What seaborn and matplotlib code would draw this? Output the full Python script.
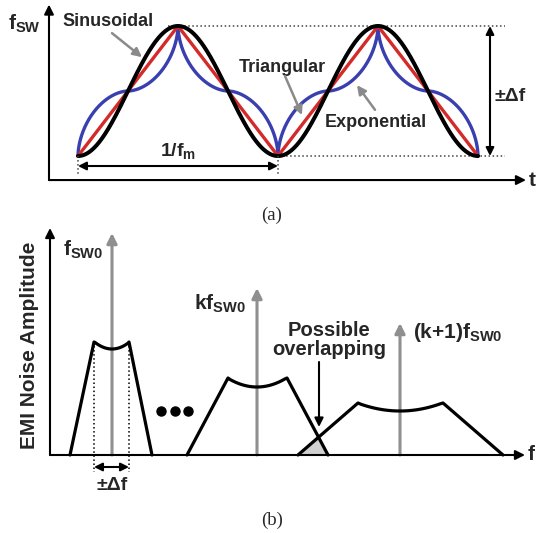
import numpy as np
import pandas as pd
import matplotlib.pyplot as plt
import seaborn as sns

# (a) frequency modulation profiles, t in units of 1/fm, f_sw in units of delta f
profiles = ['Exponential', 'Triangular', 'Sinusoidal']
profile_colors = {'Sinusoidal': 'black', 'Triangular': '#d42a2a', 'Exponential': '#3a3fb0'}
profile_widths = {'Sinusoidal': 2.9, 'Triangular': 2.4, 'Exponential': 2.4}
n_periods = 2
exp_shape = 1.8

# (b) EMI spectrum around harmonics (arbitrary units)
harmonics = ['fsw0', 'kfsw0', 'k1fsw0']
harmonic_labels = [r'$\mathbf{f}_{\mathbf{SW0}}$', r'$\mathbf{kf}_{\mathbf{SW0}}$',
                   r'$\mathbf{(k{+}1)f}_{\mathbf{SW0}}$']
carrier_freq = [0.62, 2.07, 3.50]
carrier_amp = [2.22, 1.67, 1.32]
base_left = [0.20, 1.37, 2.48]
top_left = [0.44, 1.78, 3.08]
top_right = [0.79, 2.37, 3.93]
base_right = [1.02, 2.78, 4.53]
edge_amp = [1.13, 0.77, 0.52]
dip_amp = [1.06, 0.68, 0.44]

sns.set_theme(style='white')
plt.rcParams['font.family'] = ['Liberation Sans', 'DejaVu Sans']
plt.rcParams['mathtext.fontset'] = 'custom'
plt.rcParams['mathtext.rm'] = 'Liberation Sans'
plt.rcParams['mathtext.bf'] = 'Liberation Sans:bold'
plt.rcParams['mathtext.it'] = 'Liberation Sans:italic'

fig = plt.figure(figsize=(5.37, 5.33), dpi=100)
ax_a = fig.add_axes([0, 1 - 230 / 533, 1, 230 / 533])
ax_b = fig.add_axes([0, 0, 1, 308 / 533])
for ax in (ax_a, ax_b):
    ax.set_axis_off()
    ax.patch.set_alpha(0)
ax_a.set_xlim(-0.39, 2.295)
ax_a.set_ylim((91 - 230) / 65, 91 / 65)
ax_b.set_xlim(-0.5, 4.87)
ax_b.set_ylim(-0.78, 2.30)

# ---------- panel (a)
t = np.linspace(0, n_periods, 1601)
tri = 1 - 4 * np.abs(t % 1.0 - 0.5)
q = (tri + 1) / 2


def g(s):
    # rounded quarter arc, 0 -> 1, steep start and flat end
    s = np.clip(s, 0, 1)
    return (1 - (1 - s) ** exp_shape) ** (1 / exp_shape)


expo = np.where(q <= 0.5, -1 + g(2 * q), 1 - g(2 - 2 * q))
sine = -np.cos(2 * np.pi * t)
curves = {'Sinusoidal': sine, 'Triangular': tri, 'Exponential': expo}
df_a = pd.concat([pd.DataFrame({'t': t, 'f': curves[p], 'profile': p}) for p in profiles])

for p in profiles:
    sns.lineplot(data=df_a[df_a.profile == p], x='t', y='f', color=profile_colors[p],
                 lw=profile_widths[p], estimator=None, sort=False, ax=ax_a)

arr = dict(arrowstyle='-|>', color='black', lw=1.5, mutation_scale=14, shrinkA=0, shrinkB=0)
ax_a.annotate('', xy=(-0.145, 1.33), xytext=(-0.145, -1.37), arrowprops=arr)
ax_a.annotate('', xy=(2.24, -1.37), xytext=(-0.145, -1.37), arrowprops=arr)
ax_a.text(2.255, -1.37, 't', fontsize=15, fontweight='bold', ha='left', va='center')
ax_a.text(-0.27, 1.04, r'$\mathbf{f}_{\mathbf{SW}}$', fontsize=15, ha='center', va='center')

ax_a.plot([0.45, 2.135], [1, 1], ':', color='#444444', lw=1.1, zorder=0)
ax_a.plot([1.0, 2.135], [-1, -1], ':', color='#444444', lw=1.1, zorder=0)
for tv in (0, 1):
    ax_a.plot([tv, tv], [-1, -1.31], ':', color='#444444', lw=1.1)

dbl = dict(arrowstyle='<|-|>', color='black', lw=1.5, mutation_scale=12, shrinkA=0, shrinkB=0)
ax_a.annotate('', xy=(0, -1.154), xytext=(1, -1.154), arrowprops=dbl)
ax_a.text(0.5, -0.93, r'$\mathbf{1/f}_{\mathbf{m}}$', fontsize=14, ha='center', va='center')
ax_a.annotate('', xy=(2.06, 1), xytext=(2.06, -1), arrowprops=dbl)
ax_a.text(2.16, -0.09, '±Δf', fontsize=14, fontweight='bold', ha='center', va='center')

gray_arr = dict(arrowstyle='-|>', color='#8a8a8a', lw=1.8, mutation_scale=13, shrinkA=0, shrinkB=0)
ax_a.text(0.15, 1.07, 'Sinusoidal', fontsize=13, fontweight='bold', ha='center', va='center')
ax_a.annotate('', xy=(0.32, 0.52), xytext=(0.17, 0.89), arrowprops=gray_arr)
ax_a.text(1.02, 0.354, 'Triangular', fontsize=13, fontweight='bold', ha='center', va='center')
ax_a.annotate('', xy=(1.12, -0.37), xytext=(1.035, 0.23), arrowprops=gray_arr)
ax_a.text(1.49, -0.477, 'Exponential', fontsize=13, fontweight='bold', ha='center', va='center')
ax_a.annotate('', xy=(1.395, 0.09), xytext=(1.485, -0.29), arrowprops=gray_arr)
ax_a.text(0.97, -1.92, '(a)', fontsize=13.5, family='Liberation Serif', ha='center', va='center')

# ---------- panel (b)
rows = []
for i, h in enumerate(harmonics):
    xs = np.linspace(top_left[i], top_right[i], 31)
    half = (top_right[i] - top_left[i]) / 2
    ys = dip_amp[i] + (edge_amp[i] - dip_amp[i]) * ((xs - carrier_freq[i]) / half) ** 2
    ys = np.clip(ys, None, edge_amp[i])
    ys[0] = ys[-1] = edge_amp[i]
    fx = np.concatenate([[base_left[i]], xs, [base_right[i]]])
    fy = np.concatenate([[0], ys, [0]])
    rows.append(pd.DataFrame({'freq': fx, 'amp': fy, 'harmonic': h}))
df_b = pd.concat(rows)

# overlap of neighbouring sidebands
p2 = df_b[df_b.harmonic == harmonics[1]]
p3 = df_b[df_b.harmonic == harmonics[2]]
xo = np.linspace(base_left[2], base_right[1], 100)
yo = np.minimum(np.interp(xo, p2.freq, p2.amp), np.interp(xo, p3.freq, p3.amp))
ax_b.fill_between(xo, 0, yo, color='#d0d0d0', lw=0, zorder=1)

sns.lineplot(data=df_b, x='freq', y='amp', units='harmonic', estimator=None, sort=False,
             color='black', lw=2.3, ax=ax_b, zorder=3)

carrier_arr = dict(arrowstyle='-|>', color='#8f8f8f', lw=2.2, mutation_scale=15, shrinkA=0, shrinkB=0)
for i in range(len(harmonics)):
    ax_b.annotate('', xy=(carrier_freq[i], carrier_amp[i]), xytext=(carrier_freq[i], 0),
                  arrowprops=carrier_arr, zorder=2)

ax_b.annotate('', xy=(0, 2.27), xytext=(0, 0), arrowprops=arr)
ax_b.annotate('', xy=(4.75, 0), xytext=(0, 0), arrowprops=arr)
ax_b.text(4.78, 0, 'f', fontsize=15, fontweight='bold', ha='left', va='center')
ax_b.text(-0.20, 1.10, 'EMI Noise Amplitude', fontsize=15, fontweight='bold',
          rotation=90, ha='center', va='center')

ax_b.text(0.13, 2.05, harmonic_labels[0], fontsize=15, ha='left', va='center')
ax_b.text(1.96, 1.51, harmonic_labels[1], fontsize=15, ha='right', va='center')
ax_b.text(3.63, 1.22, harmonic_labels[2], fontsize=15, ha='left', va='center')

ax_b.plot([1.11, 1.25, 1.38], [0.44, 0.44, 0.44], 'o', color='black', ms=6.5)

for xv in (top_left[0], top_right[0]):
    ax_b.plot([xv, xv], [edge_amp[0], -0.17], ':', color='black', lw=1.1, zorder=1)
ax_b.annotate('', xy=(top_left[0], -0.12), xytext=(top_right[0], -0.12), arrowprops=dbl)
ax_b.text(carrier_freq[0], -0.30, '±Δf', fontsize=14, fontweight='bold', ha='center', va='center')

ax_b.text(2.79, 1.15, 'Possible\noverlapping', fontsize=14.5, fontweight='bold',
          ha='center', va='center', linespacing=1.0)
ax_b.annotate('', xy=(2.69, 0.28), xytext=(2.69, 0.93),
              arrowprops=dict(arrowstyle='-|>', color='black', lw=1.5, mutation_scale=13,
                              shrinkA=0, shrinkB=0))
ax_b.text(2.22, -0.65, '(b)', fontsize=13.5, family='Liberation Serif', ha='center', va='center')

fig.savefig('out.png', dpi=100)
